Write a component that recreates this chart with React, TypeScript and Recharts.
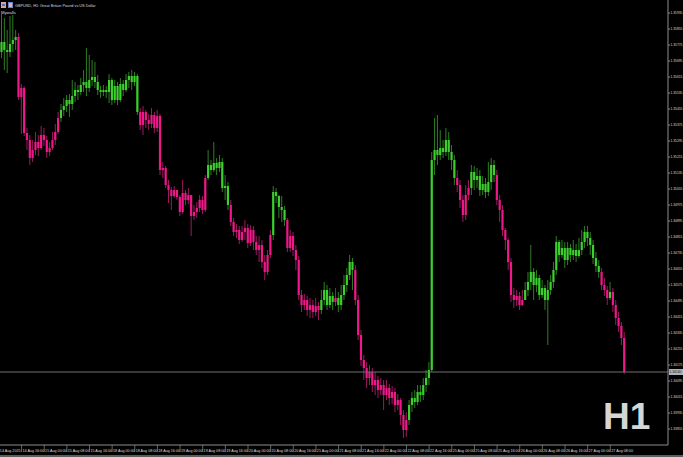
import { ComposedChart, Bar, XAxis, YAxis, ReferenceLine } from "recharts";

// GBPUSD H1, 14 Aug 08:00 -> 27 Aug 12:00 (server time)
const firstOpen = 1.3574;

const closes = [
  1.3579, 1.3575, 1.3574, 1.3578, 1.358, 1.35815, 1.35515, 1.3556, 1.35335, 1.353,
  1.3521, 1.3525, 1.3529, 1.3526, 1.35325, 1.353, 1.3524, 1.3526, 1.353, 1.3534,
  1.3541, 1.3545, 1.3547, 1.355, 1.3548, 1.3552, 1.3555, 1.3554, 1.35575, 1.3559,
  1.3556, 1.356, 1.35615, 1.3559, 1.3555, 1.3554, 1.3555, 1.3554, 1.356, 1.355,
  1.3557, 1.355, 1.3558, 1.3555, 1.356, 1.3562, 1.3559, 1.3562, 1.3544, 1.35375,
  1.3544, 1.354, 1.3538, 1.35425, 1.3536, 1.3542, 1.3515, 1.3516, 1.35075, 1.3505,
  1.3502, 1.3505, 1.35015, 1.3494, 1.35035, 1.35, 1.35025, 1.3492, 1.3494, 1.3496,
  1.35, 1.3495, 1.3511, 1.35175, 1.3515, 1.35185, 1.3516, 1.3519, 1.3506, 1.3507,
  1.34975, 1.3489, 1.3484, 1.3485, 1.348, 1.3484, 1.3486, 1.34785, 1.3485, 1.3479,
  1.3475, 1.34775, 1.3469, 1.3464, 1.34725, 1.34825, 1.3504, 1.3502, 1.34965, 1.3495,
  1.349, 1.3476, 1.3482, 1.3475, 1.347, 1.34525, 1.34475, 1.345, 1.3445, 1.34475,
  1.3444, 1.3447, 1.3445, 1.345, 1.3455, 1.34475, 1.3452, 1.3449, 1.3451, 1.34475,
  1.34525, 1.34575, 1.34625, 1.3469, 1.3465, 1.345, 1.34325, 1.342, 1.3416, 1.3411,
  1.3414, 1.34075, 1.341, 1.3405, 1.34075, 1.34025, 1.3406, 1.3401, 1.3404, 1.33975,
  1.34, 1.33925, 1.3385, 1.339, 1.33975, 1.3401, 1.3399, 1.3404, 1.34025, 1.34075,
  1.3411, 1.3415, 1.352, 1.3525, 1.35225, 1.3526, 1.3524, 1.353, 1.3524, 1.352,
  1.3511, 1.35075, 1.35, 1.34925, 1.35025, 1.3506, 1.3514, 1.351, 1.3512, 1.3505,
  1.3508, 1.3504, 1.3509, 1.35175, 1.35125, 1.35, 1.3495, 1.3485, 1.348, 1.3469,
  1.34525, 1.345, 1.3452, 1.34475, 1.345, 1.3455, 1.3459, 1.3464, 1.34575, 1.3461,
  1.34525, 1.3456, 1.345, 1.3455, 1.3459, 1.3465, 1.3479, 1.34725, 1.3476, 1.347,
  1.3476, 1.34725, 1.3475, 1.3472, 1.3475, 1.3479, 1.3484, 1.3481, 1.34775, 1.3471,
  1.3467, 1.3464, 1.34575, 1.3455, 1.3451, 1.3454, 1.34475, 1.3441, 1.3437, 1.3431,
  1.3414,
];

const highs = [
  1.3593, 1.3591, 1.3585, 1.3592, 1.35925, 1.3585, 1.35835, 1.3558, 1.3557, 1.3536,
  1.35325, 1.353, 1.3534, 1.35325, 1.3537, 1.3536, 1.3532, 1.3529, 1.3534, 1.3538,
  1.3544, 1.3548, 1.3551, 1.35525, 1.3553, 1.356, 1.3559, 1.35575, 1.3561, 1.3565,
  1.3576, 1.35725, 1.357, 1.3569, 1.35625, 1.3557, 1.35575, 1.3557, 1.3563, 1.3561,
  1.356, 1.3559, 1.3561, 1.356, 1.3563, 1.3564, 1.3565, 1.3564, 1.3563, 1.3546,
  1.3547, 1.3545, 1.3543, 1.3546, 1.3544, 1.3545, 1.3543, 1.3519, 1.3517, 1.351,
  1.35065, 1.3507, 1.3505, 1.35025, 1.351, 1.3505, 1.3506, 1.35025, 1.34975, 1.3499,
  1.35025, 1.3502, 1.35125, 1.3525, 1.352, 1.3529, 1.3521, 1.35225, 1.3521, 1.35125,
  1.3509, 1.35, 1.3491, 1.3488, 1.3487, 1.3487, 1.349, 1.3488, 1.34875, 1.3487,
  1.3482, 1.3482, 1.348, 1.34725, 1.3475, 1.3485, 1.3507, 1.3506, 1.35025, 1.3502,
  1.3497, 1.3491, 1.3485, 1.3484, 1.34775, 1.3472, 1.3455, 1.3453, 1.3452, 1.3451,
  1.345, 1.3451, 1.3449, 1.3455, 1.3459, 1.34575, 1.3456, 1.3454, 1.3456, 1.3454,
  1.34575, 1.34625, 1.3466, 1.34725, 1.3471, 1.34675, 1.34525, 1.3435, 1.34225, 1.3419,
  1.34175, 1.3416, 1.3414, 1.3412, 1.3411, 1.341, 1.341, 1.3408, 1.3407, 1.3406,
  1.3403, 1.3401, 1.3395, 1.3394, 1.34, 1.3404, 1.3405, 1.34075, 1.34075, 1.3411,
  1.3415, 1.3419, 1.3524, 1.3541, 1.35425, 1.3535, 1.353, 1.3536, 1.3534, 1.35275,
  1.35225, 1.3515, 1.351, 1.35025, 1.35075, 1.351, 1.35175, 1.3517, 1.3516, 1.3515,
  1.3512, 1.3511, 1.3519, 1.3521, 1.352, 1.3515, 1.35025, 1.34975, 1.3486, 1.3481,
  1.3471, 1.3456, 1.3455, 1.3454, 1.3455, 1.3459, 1.3464, 1.34775, 1.3466, 1.3465,
  1.34625, 1.346, 1.34575, 1.346, 1.34625, 1.3469, 1.3482, 1.348, 1.348, 1.3479,
  1.3479, 1.3478, 1.348, 1.3478, 1.3481, 1.3485, 1.3487, 1.3487, 1.3484, 1.348,
  1.3474, 1.347, 1.3466, 1.3461, 1.3457, 1.3459, 1.3456, 1.345, 1.3444, 1.3439,
  1.3434,
];

const lows = [
  1.3571, 1.3565, 1.35635, 1.35715, 1.3574, 1.3575, 1.355, 1.3533, 1.3532, 1.3525,
  1.35175, 1.3519, 1.35225, 1.3522, 1.3525, 1.3527, 1.3521, 1.3522, 1.3525, 1.35275,
  1.3533, 1.3539, 1.3542, 1.3544, 1.35415, 1.3545, 1.3549, 1.355, 1.35525, 1.3554,
  1.3552, 1.3554, 1.3557, 1.3556, 1.35525, 1.3551, 1.3552, 1.3551, 1.35485, 1.35475,
  1.35485, 1.35475, 1.3549, 1.3552, 1.3554, 1.3556, 1.3555, 1.3557, 1.35425, 1.3535,
  1.35325, 1.3536, 1.3535, 1.3536, 1.35335, 1.3534, 1.35125, 1.3511, 1.3506, 1.34985,
  1.3495, 1.3501, 1.35, 1.3492, 1.3493, 1.34975, 1.3498, 1.3482, 1.349, 1.3491,
  1.3494, 1.3493, 1.3494, 1.351, 1.35125, 1.3514, 1.35125, 1.3514, 1.3504, 1.35,
  1.3495, 1.3487, 1.3482, 1.3481, 1.3478, 1.3479, 1.348, 1.3476, 1.3477, 1.3475,
  1.34725, 1.3469, 1.3466, 1.346, 1.34625, 1.3471, 1.348, 1.34985, 1.3491, 1.3489,
  1.3487, 1.3474, 1.3474, 1.3472, 1.3465, 1.345, 1.3444, 1.3445, 1.3442, 1.3441,
  1.3441, 1.3442, 1.344, 1.3443, 1.34475, 1.3445, 1.3446, 1.3445, 1.3447, 1.3444,
  1.3445, 1.345, 1.3454, 1.346, 1.3455, 1.34475, 1.343, 1.3417, 1.341, 1.3406,
  1.34075, 1.3404, 1.34025, 1.3401, 1.34025, 1.3395, 1.34, 1.33975, 1.3398, 1.3394,
  1.3395, 1.33875, 1.3381, 1.33815, 1.33875, 1.3394, 1.3396, 1.33975, 1.3399, 1.34,
  1.3404, 1.34075, 1.3414, 1.35125, 1.35175, 1.352, 1.3521, 1.3522, 1.352, 1.3515,
  1.35075, 1.3504, 1.3496, 1.3489, 1.349, 1.35, 1.35025, 1.3505, 1.3506, 1.3502,
  1.35025, 1.3501, 1.3502, 1.3505, 1.3509, 1.34975, 1.3489, 1.3482, 1.3475, 1.3465,
  1.3449, 1.3446, 1.3447, 1.3445, 1.3447, 1.345, 1.3452, 1.3455, 1.345, 1.3454,
  1.345, 1.3451, 1.3445, 1.34275, 1.34525, 1.3456, 1.34625, 1.3469, 1.3471, 1.3466,
  1.34675, 1.3469, 1.347, 1.3469, 1.3471, 1.34725, 1.3476, 1.3477, 1.34725, 1.3468,
  1.3464, 1.3461, 1.3455, 1.3452, 1.34475, 1.345, 1.3444, 1.34375, 1.3434, 1.34275,
  1.3413,
];

// candle colour from the indicator: g = green, p = pink
const colorRuns: [string, number][] = [
  ["g", 6], ["p", 15], ["g", 28], ["p", 24], ["g", 8], ["p", 15], ["g", 5],
  ["p", 12], ["g", 5], ["p", 1], ["g", 6], ["p", 19], ["g", 17], ["p", 5],
  ["g", 9], ["p", 10], ["g", 27], ["p", 3], ["g", 1], ["p", 5],
];

const dateLabels = [
  "14 Aug 2025", "14 Aug 16:00", "15 Aug 00:00", "15 Aug 08:00", "15 Aug 16:00",
  "18 Aug 00:00", "18 Aug 08:00", "18 Aug 16:00", "19 Aug 00:00", "19 Aug 08:00",
  "19 Aug 16:00", "20 Aug 00:00", "20 Aug 08:00", "20 Aug 16:00", "21 Aug 00:00",
  "21 Aug 08:00", "21 Aug 16:00", "22 Aug 00:00", "22 Aug 08:00", "22 Aug 16:00",
  "25 Aug 00:00", "25 Aug 08:00", "25 Aug 16:00", "26 Aug 00:00", "26 Aug 08:00",
  "26 Aug 16:00", "27 Aug 00:00", "27 Aug 08:00",
];

const priceTicks = [
  1.35935, 1.35855, 1.35775, 1.35695, 1.35615, 1.35535, 1.35455, 1.35375, 1.35295,
  1.35215, 1.35135, 1.35055, 1.34975, 1.34895, 1.34815, 1.34735, 1.34655, 1.34575,
  1.34495, 1.34415, 1.34335, 1.34255, 1.34175, 1.34095, 1.34015, 1.33935, 1.33855,
];

const lastPrice = 1.3414;
const emptySlots = 15;
const barsPerLabel = 8;

const BULL = "#3bd02b";
const BEAR = "#f0178a";
const BULL_WICK = "#2e7f22";
const BEAR_WICK = "#9c1a5e";
const AXIS = "#8c8c8c";
const TEXT = "#dcdcdc";
const FONT = "Liberation Sans, Arial, sans-serif";

const colors = colorRuns.flatMap(([c, n]) => Array(n).fill(c));

const rows = [
  ...closes.map((close, i) => ({
    i,
    open: i === 0 ? firstOpen : closes[i - 1],
    close,
    high: highs[i],
    low: lows[i],
    up: colors[i] === "g",
    range: [lows[i], highs[i]],
  })),
  ...Array.from({ length: emptySlots }, (_, k) => ({ i: closes.length + k, range: null })),
];

function Candle(props: any) {
  const { x, y, width, height } = props;
  const d = props.payload ?? props;
  if (d == null || d.high == null || !isFinite(y)) return <g />;
  const top = Math.min(y, y + height);
  const h = Math.abs(height);
  const k = h / (d.high - d.low || 1);
  const cx = x + width / 2;
  const bodyTop = top + (d.high - Math.max(d.open, d.close)) * k;
  const bodyH = Math.max(1, Math.abs(d.open - d.close) * k);
  return (
    <g>
      <line x1={cx} x2={cx} y1={top} y2={top + h} stroke={d.up ? BULL_WICK : BEAR_WICK} strokeWidth={1} />
      <rect x={cx - 1.1} y={bodyTop} width={2.2} height={bodyH} fill={d.up ? BULL : BEAR} />
    </g>
  );
}

function DateTick(props: any) {
  const { x, payload } = props;
  const v = payload?.value;
  if (v % barsPerLabel !== 0 || v / barsPerLabel >= dateLabels.length) return <g />;
  return (
    <g>
      <line x1={x - 2.5} x2={x - 2.5} y1={445} y2={452} stroke={AXIS} strokeWidth={0.7} />
      <text x={x - 1.6} y={451.5} fontSize={3.7} fill={TEXT} fontFamily={FONT}>
        {dateLabels[v / barsPerLabel]}
      </text>
    </g>
  );
}

function PriceTag(props: any) {
  const vb = props.viewBox || {};
  const x = vb.x + vb.width;
  const y = vb.y;
  return (
    <g>
      <rect x={x + 1} y={y - 3} width={14} height={6} fill="#a9b4c2" />
      <text x={x + 1.5} y={y + 1.3} fontSize={3.3} fill="#111" fontFamily={FONT}>
        {lastPrice.toFixed(5)}
      </text>
    </g>
  );
}

export default function App() {
  return (
    <div style={{ position: "relative", width: 683, height: 457, background: "#000", overflow: "hidden" }}>
      <style>{"body{margin:0;background:#000}"}</style>
      <ComposedChart
        width={683}
        height={457}
        data={rows}
        margin={{ top: 0, right: 0, bottom: 0, left: 0 }}
        barCategoryGap={0}
      >
        <XAxis
          dataKey="i"
          interval={0}
          height={12}
          axisLine={{ stroke: AXIS }}
          tickLine={false}
          tick={(p: any) => <DateTick {...p} />}
        />
        <YAxis
          orientation="right"
          type="number"
          domain={[1.33775, 1.36]}
          ticks={priceTicks}
          interval={0}
          allowDataOverflow
          width={15}
          tickSize={2}
          tickMargin={0.5}
          axisLine={{ stroke: AXIS }}
          tickLine={{ stroke: AXIS }}
          tick={{ fill: TEXT, fontSize: 3.3, fontFamily: FONT }}
          tickFormatter={(v: number) => v.toFixed(5)}
        />
        <ReferenceLine y={lastPrice} stroke="#6f6f6f" strokeWidth={1} label={<PriceTag />} />
        <Bar dataKey="range" isAnimationActive={false} shape={(p: any) => <Candle {...p} />} />
      </ComposedChart>
      <svg width={683} height={457} style={{ position: "absolute", left: 0, top: 0, pointerEvents: "none" }}>
        <rect x={1} y={2} width={5} height={6} fill="#d9a0a8" />
        <rect x={2} y={4} width={3} height={2} fill="#5a6fb8" />
        <rect x={8} y={2} width={5} height={6} fill="#6d86c9" />
        <rect x={9} y={3} width={3} height={4} fill="#e2b0b6" />
        <text x={15} y={7} fontSize={3.8} fill={TEXT} fontFamily={FONT}>
          GBPUSD, H1:  Great Britain Pound vs US Dollar
        </text>
        <text x={1} y={14} fontSize={4.2} fill={TEXT} fontFamily={FONT}>
          Mywalls
        </text>
        <text x={603} y={429} fontSize={37} fontWeight="bold" fill="#d6d6d6" fontFamily={FONT}>
          H1
        </text>
        <rect x={0} y={455} width={683} height={2} fill="#5c5c5c" />
      </svg>
    </div>
  );
}
